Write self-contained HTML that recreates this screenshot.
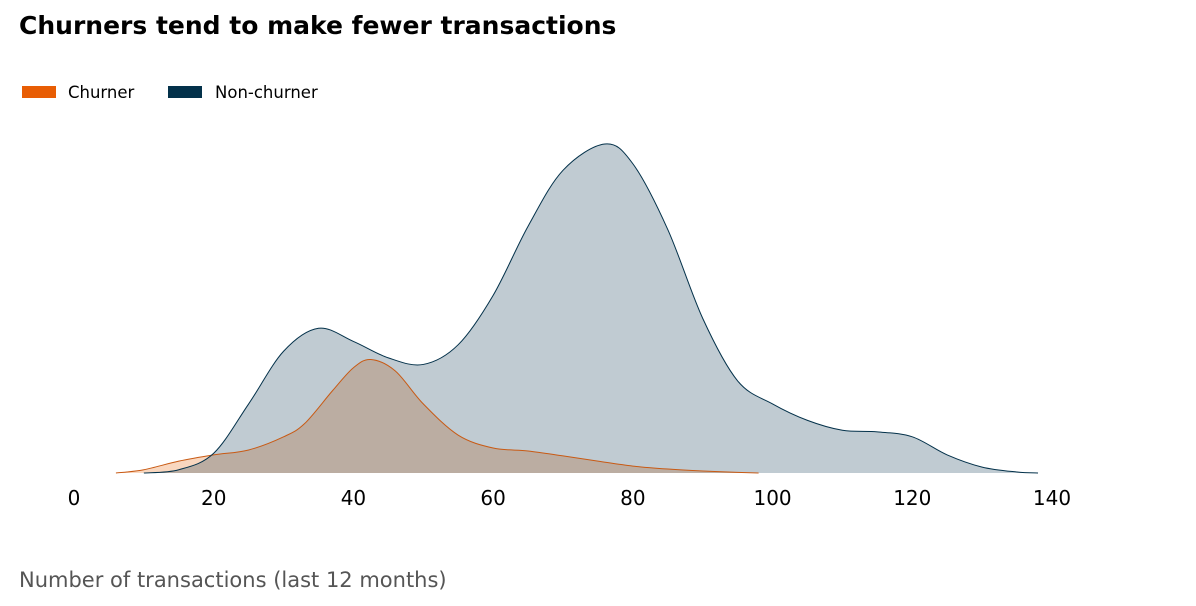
<!DOCTYPE html>
<html><head><meta charset="utf-8"><style>
body{margin:0;background:#fff;font-family:"DejaVu Sans","Liberation Sans",sans-serif;}
#wrap{position:relative;width:1196px;height:606px;overflow:hidden}
</style></head><body>
<div id="wrap">
<svg id="svg" width="1196" height="606">
<text x="19" y="34" font-size="25" font-weight="bold" fill="#000">Churners tend to make fewer transactions</text>
<g>
<rect x="22" y="86" width="34" height="12" fill="#e85d04"/>
<text x="68" y="98" font-size="16.5" fill="#000">Churner</text>
<rect x="168" y="86" width="34" height="12" fill="#03314a"/>
<text x="215" y="98" font-size="16.5" fill="#000">Non-churner</text>
</g>
<g id="plot"></g>
<g id="xaxis"></g>
<text x="19" y="587" font-size="21" fill="#555">Number of transactions (last 12 months)</text>
</svg>
</div>
<script>
const xTicks=[0,20,40,60,80,100,120,140];
const churnX=[6,10,15,20,25,30,33,37,40,42.5,46,50,55,60,65,70,75,80,85,90,95,98];
const churnY=[0,0.01,0.036,0.055,0.07,0.11,0.15,0.25,0.32,0.345,0.31,0.21,0.115,0.076,0.067,0.052,0.036,0.021,0.012,0.006,0.002,0];
const nonX=[10,15,20,25,30,35,40,45,50,55,60,65,70,76,80,85,90,95,100,105,110,115,120,125,130,135,138];
const nonY=[0,0.01,0.06,0.21,0.37,0.44,0.40,0.35,0.33,0.39,0.54,0.75,0.92,1.0,0.94,0.74,0.47,0.28,0.21,0.16,0.13,0.125,0.11,0.055,0.018,0.003,0];
const NS='http://www.w3.org/2000/svg';
const xs=v=>74+v*(1052-74)/140;
const ys=v=>473-v*329;
function path(X,Y){
  const p=X.map((x,i)=>[xs(x),ys(Y[i])]);
  let d='M'+p[0][0]+','+p[0][1];
  for(let i=0;i<p.length-1;i++){
    const p0=p[i-1]||p[i],p1=p[i],p2=p[i+1],p3=p[i+2]||p[i+1];
    const c1x=p1[0]+(p2[0]-p0[0])/6,c1y=p1[1]+(p2[1]-p0[1])/6;
    const c2x=p2[0]-(p3[0]-p1[0])/6,c2y=p2[1]-(p3[1]-p1[1])/6;
    d+=` C${c1x},${Math.min(473,c1y)} ${c2x},${Math.min(473,c2y)} ${p2[0]},${p2[1]}`;
  }
  return d;
}
const plot=document.getElementById('plot');
function area(X,Y,fill,name){
  const a=document.createElementNS(NS,'path');
  a.setAttribute('d',path(X,Y)+' Z');
  a.setAttribute('fill',fill);
  
  
  plot.appendChild(a);
}
function line(X,Y,stroke,name){
  const l=document.createElementNS(NS,'path');
  l.setAttribute('d',path(X,Y));
  l.setAttribute('fill','none');l.setAttribute('stroke',stroke);l.setAttribute('stroke-width','1');
  
  
  plot.appendChild(l);
}
area(churnX,churnY,'rgba(233,95,0,0.25)','churner');
area(nonX,nonY,'rgba(3,49,74,0.25)','non-churner');
line(churnX,churnY,'#c85a14','churner');
line(nonX,nonY,'#03314a','non-churner');
const xa=document.getElementById('xaxis');
xTicks.forEach(t=>{
  const tx=document.createElementNS(NS,'text');
  tx.setAttribute('x',xs(t));tx.setAttribute('y',505);
  tx.setAttribute('text-anchor','middle');tx.setAttribute('font-size','20');tx.setAttribute('fill','#000');
  tx.textContent=t;
  
  
  xa.appendChild(tx);
});
</script>
</body></html>
